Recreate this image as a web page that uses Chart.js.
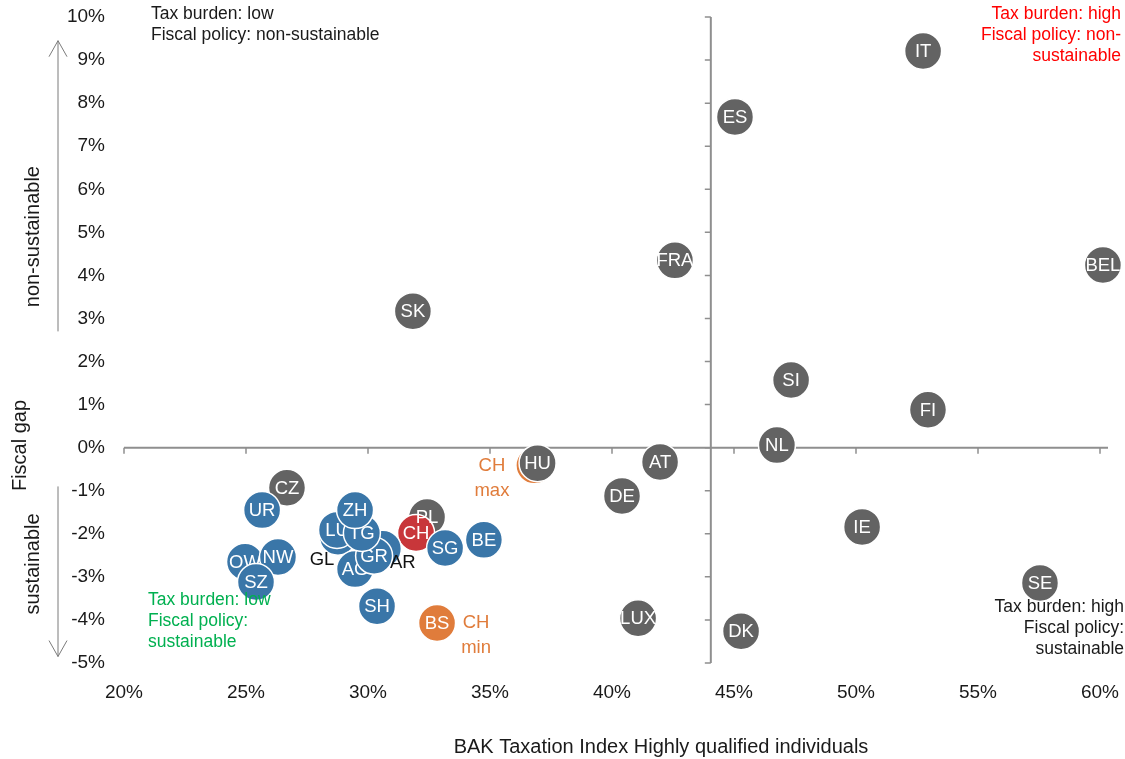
<!DOCTYPE html>
<html>
<head>
<meta charset="utf-8">
<script src="https://cdn.jsdelivr.net/npm/chart.js@4/dist/chart.umd.min.js"></script>
<style>
  html, body { margin: 0; padding: 0; background: #ffffff; }
  #wrap { width: 1125px; height: 759px; }
</style>
</head>
<body>
<div id="wrap"><canvas id="chart" width="1125" height="759"></canvas></div>
<script>
// Countries (BAK Taxation Index, fiscal gap in %)
const countryNames = ['CZ', 'SK', 'PL', 'HU', 'DE', 'LUX', 'AT', 'FRA', 'ES', 'DK', 'NL', 'SI', 'IE', 'IT', 'FI', 'SE', 'BEL'];
const countryTax   = [26.68, 31.84, 32.42, 36.95, 40.41, 41.07, 41.97, 42.58, 45.04, 45.29, 46.76, 47.34, 50.25, 52.75, 52.95, 57.54, 60.12];
const countryGap   = [-0.93, 3.17, -1.61, -0.36, -1.12, -3.96, -0.33, 4.35, 7.68, -4.26, 0.06, 1.57, -1.84, 9.21, 0.88, -3.14, 4.24];

// Swiss cantons
const cantonNames = ['OW', 'NW', 'SZ', 'UR', 'GL', 'LU', 'AR', 'AG', 'GR', 'TG', 'ZH', 'SH', 'SG', 'BE'];
const cantonTax   = [24.96, 26.31, 25.41, 25.66, 28.77, 28.73, 30.61, 29.47, 30.25, 29.75, 29.47, 30.37, 33.16, 34.75];
const cantonGap   = [-2.65, -2.54, -3.12, -1.45, -2.07, -1.91, -2.35, -2.82, -2.51, -1.98, -1.45, -3.68, -2.33, -2.14];

// Switzerland as a whole, and the cantonal extremes
const swissNames = ['CH'];
const swissTax   = [31.97];
const swissGap   = [-1.98];

const extremeNames = ['CH max', 'BS'];
const extremeTax   = [36.82, 32.83];
const extremeGap   = [-0.41, -4.07];

// Axis ranges and tick spacing
const xMin = 20, xMax = 60, xStep = 5;
const yMin = -5, yMax = 10, yStep = 1;
const crossX = 44.05;   // tax index where the vertical quadrant axis sits
const crossY = 0;       // fiscal gap where the horizontal quadrant axis sits

const GREY = '#636363';
const BLUE = '#3a76a8';
const RED = '#c8363a';
const ORANGE = '#e07c3b';
const FONT = '"Liberation Sans", Arial, sans-serif';

// Label treatment for some bubbles: text outside the circle instead of inside
const outsideLabels = {
  'GL':     { lines: ['GL'], color: '#111111', dx: -16, dy: 23 },
  'AR':     { lines: ['AR'], color: '#111111', dx: 20, dy: 14 },
  'CH max': { lines: ['CH', 'max'], color: ORANGE, dx: -42.5, dy: 0.5 },
  'BS':     { lines: ['CH', 'min'], color: ORANGE, dx: 39, dy: 0, inside: 'BS' }
};

// One dataset per bubble, so each bubble and its label are layered together.
// Country labels are written once all non-canton bubbles are down.
const groups = [
  { names: extremeNames, xs: extremeTax, ys: extremeGap, color: ORANGE, lateLabels: false },
  { names: countryNames, xs: countryTax, ys: countryGap, color: GREY,   lateLabels: true },
  { names: swissNames,   xs: swissTax,   ys: swissGap,   color: RED,    lateLabels: false },
  { names: cantonNames,  xs: cantonTax,  ys: cantonGap,  color: BLUE,   lateLabels: false }
];

const datasets = [];
groups.forEach(g => {
  g.names.forEach((name, i) => {
    datasets.push({
      label: name,
      lateLabel: g.lateLabels,
      data: [{ x: g.xs[i], y: g.ys[i] }],
      backgroundColor: g.color,
      borderColor: '#ffffff',
      borderWidth: 1.5,
      pointRadius: 18.5,
      pointHoverRadius: 18.5,
      clip: false
    });
  });
});
const total = datasets.length;
datasets.forEach((d, i) => { d.order = total - i; });
const firstCanton = datasets.findIndex(d => d.label === cantonNames[0]);

function writeInside(ctx, ds, pt) {
  const special = outsideLabels[ds.label];
  if (special && !special.inside) return;
  ctx.save();
  ctx.textAlign = 'center';
  ctx.textBaseline = 'middle';
  ctx.font = '18.5px ' + FONT;
  ctx.fillStyle = '#ffffff';
  ctx.fillText(special ? special.inside : ds.label, pt.x, pt.y + 1);
  ctx.restore();
}

const bubbleLabels = {
  id: 'bubbleLabels',
  afterDatasetDraw(chart, args) {
    const ds = chart.data.datasets[args.index];
    if (!ds.lateLabel) writeInside(chart.ctx, ds, args.meta.data[0]);
    // just before the first canton bubble, write the country labels
    if (args.index === firstCanton - 1) {
      chart.data.datasets.forEach((d, i) => {
        if (d.lateLabel) writeInside(chart.ctx, d, chart.getDatasetMeta(i).data[0]);
      });
    }
  },
  afterDatasetsDraw(chart) {
    const ctx = chart.ctx;
    ctx.save();
    ctx.textAlign = 'center';
    ctx.textBaseline = 'middle';
    ctx.font = '18.5px ' + FONT;
    chart.data.datasets.forEach((ds, i) => {
      const special = outsideLabels[ds.label];
      if (!special) return;
      const pt = chart.getDatasetMeta(i).data[0];
      ctx.fillStyle = special.color;
      special.lines.forEach((line, k) => {
        ctx.fillText(line, pt.x + special.dx, pt.y + special.dy + k * 25);
      });
    });
    ctx.restore();
  }
};

// Quadrant axes crossing inside the plot, side arrows and text annotations
const quadrantFrame = {
  id: 'quadrantFrame',
  beforeDatasetsDraw(chart) {
    const ctx = chart.ctx;
    const xs = chart.scales.x, ys = chart.scales.y;
    const x0 = xs.getPixelForValue(crossX);
    const y0 = ys.getPixelForValue(crossY);
    ctx.save();
    ctx.strokeStyle = '#8f8f8f';
    ctx.lineWidth = 2;
    ctx.beginPath();
    ctx.moveTo(xs.getPixelForValue(xMin), y0);
    ctx.lineTo(xs.getPixelForValue(xMax) + 8, y0);
    ctx.moveTo(x0, ys.getPixelForValue(yMin));
    ctx.lineTo(x0, ys.getPixelForValue(yMax));
    ctx.stroke();
    ctx.lineWidth = 1.5;
    ctx.beginPath();
    for (let v = xMin; v <= xMax; v += xStep) {
      const px = xs.getPixelForValue(v);
      ctx.moveTo(px, y0);
      ctx.lineTo(px, y0 + 6);
    }
    for (let v = yMin; v <= yMax; v += yStep) {
      const py = ys.getPixelForValue(v);
      ctx.moveTo(x0, py);
      ctx.lineTo(x0 - 6, py);
    }
    ctx.stroke();
    ctx.restore();
  },
  afterDraw(chart) {
    const ctx = chart.ctx;
    const ys = chart.scales.y;
    ctx.save();

    // arrows beside the vertical axis
    const ax = 58;
    const upFrom = ys.getPixelForValue(2.7), upTo = ys.getPixelForValue(9.45);
    const dnFrom = ys.getPixelForValue(-0.9), dnTo = ys.getPixelForValue(-4.85);
    ctx.strokeStyle = '#7a7a7a';
    ctx.lineWidth = 1;
    ctx.beginPath();
    ctx.moveTo(ax, upFrom); ctx.lineTo(ax, upTo);
    ctx.moveTo(ax - 9, upTo + 16); ctx.lineTo(ax, upTo); ctx.lineTo(ax + 9, upTo + 16);
    ctx.moveTo(ax, dnFrom); ctx.lineTo(ax, dnTo);
    ctx.moveTo(ax - 9, dnTo - 16); ctx.lineTo(ax, dnTo); ctx.lineTo(ax + 9, dnTo - 16);
    ctx.stroke();

    // rotated side texts
    ctx.fillStyle = '#1a1a1a';
    ctx.font = '20px ' + FONT;
    ctx.textAlign = 'center';
    ctx.textBaseline = 'middle';
    const rot = (text, x, y) => {
      ctx.save();
      ctx.translate(x, y);
      ctx.rotate(-Math.PI / 2);
      ctx.fillText(text, 0, 0);
      ctx.restore();
    };
    rot('non-sustainable', 33, ys.getPixelForValue(4.9));
    rot('Fiscal gap', 20, ys.getPixelForValue(0.05));
    rot('sustainable', 33, ys.getPixelForValue(-2.7));

    // x axis title
    ctx.fillText('BAK Taxation Index Highly qualified individuals', 661, 747);

    // quadrant notes
    const block = (lines, x, y, align, color) => {
      ctx.textAlign = align;
      ctx.fillStyle = color;
      lines.forEach((l, k) => ctx.fillText(l, x, y + k * 21));
    };
    ctx.font = '17.5px ' + FONT;
    block(['Tax burden: low', 'Fiscal policy: non-sustainable'], 151, 14, 'left', '#1a1a1a');
    block(['Tax burden: high', 'Fiscal policy: non-', 'sustainable'], 1121, 14, 'right', '#ff0000');
    block(['Tax burden: high', 'Fiscal policy:', 'sustainable'], 1124, 607, 'right', '#1a1a1a');
    block(['Tax burden: low', 'Fiscal policy:', 'sustainable'], 148, 600, 'left', '#00b050');
    ctx.restore();
  }
};

new Chart(document.getElementById('chart'), {
  type: 'scatter',
  data: { datasets },
  options: {
    responsive: false,
    devicePixelRatio: 1,
    animation: false,
    layout: { autoPadding: false, padding: { left: 0, right: 25, top: 17, bottom: 0 } },
    plugins: { legend: { display: false }, tooltip: { enabled: false } },
    scales: {
      x: {
        type: 'linear',
        min: xMin, max: xMax,
        grid: { display: false },
        border: { display: false },
        ticks: {
          stepSize: xStep,
          padding: 10,
          color: '#1a1a1a',
          font: { family: FONT, size: 19 },
          callback: v => v + '%'
        },
        afterFit: s => { s.height = 96; s.paddingLeft = 0; s.paddingRight = 0; }
      },
      y: {
        type: 'linear',
        min: yMin, max: yMax,
        grid: { display: false },
        border: { display: false },
        ticks: {
          stepSize: yStep,
          padding: 11,
          color: '#1a1a1a',
          font: { family: FONT, size: 19 },
          callback: v => v + '%'
        },
        afterFit: s => { s.width = 124; s.paddingTop = 0; s.paddingBottom = 0; }
      }
    }
  },
  plugins: [quadrantFrame, bubbleLabels]
});
</script>
</body>
</html>
